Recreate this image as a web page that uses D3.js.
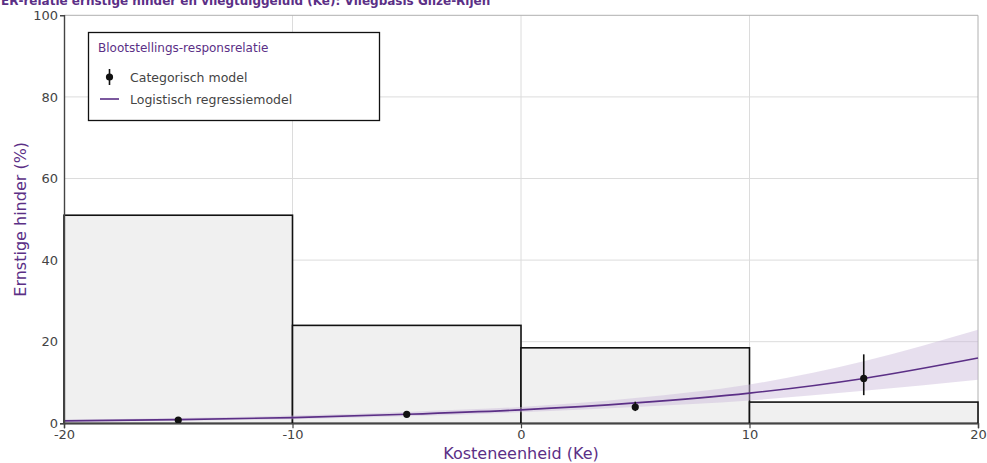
<!DOCTYPE html>
<html><head><meta charset="utf-8">
<script src="https://cdn.jsdelivr.net/npm/d3@7"></script>
<style>body{margin:0;background:#fff}svg{display:block;font-family:"DejaVu Sans",Verdana,sans-serif}</style>
</head><body><svg id="c" width="987" height="463"></svg>
<script>
// Data
const binStarts = [-20, -10, 0, 10];
const binEnds = [-10, 0, 10, 20];
const binValues = [51, 24, 18.5, 5.2];
const pointX = [-15, -5, 5, 15];
const pointY = [0.8, 2.2, 4.0, 11.0];
const pointLow = [0.5, 1.5, 3.0, 6.9];
const pointHigh = [1.1, 3.0, 5.3, 16.9];
const curveX = [-20, -15, -10, -5, 0, 5, 10, 15, 20];
const curveY = [0.6, 0.9, 1.4, 2.2, 3.3, 5.0, 7.4, 11.0, 16.0];
const bandLow = [0.4, 0.6, 1.0, 1.7, 2.7, 4.0, 5.6, 8.0, 10.7];
const bandHigh = [0.9, 1.3, 1.9, 2.8, 4.0, 6.2, 9.5, 15.2, 22.9];
const xTicks = [-20, -10, 0, 10, 20];
const yTicks = [0, 20, 40, 60, 80, 100];

const purple = "#5b2f86";
const svg = d3.select("#c");
const L = 64, R = 978, T = 15.3, B = 423.3;
const x = d3.scaleLinear().domain([-20, 20]).range([L, R]);
const y = d3.scaleLinear().domain([0, 100]).range([B, T]);

// grid
const g = svg.append("g");
g.selectAll(".gx").data(xTicks.slice(1, -1)).join("line")
  .attr("x1", d => x(d)).attr("x2", d => x(d)).attr("y1", T).attr("y2", B)
  .attr("stroke", "#dcdcdc").attr("stroke-width", 1);
g.selectAll(".gy").data(yTicks.slice(1, -1)).join("line")
  .attr("x1", L).attr("x2", R).attr("y1", d => y(d)).attr("y2", d => y(d))
  .attr("stroke", "#dcdcdc").attr("stroke-width", 1);
// frame top/right
svg.append("line").attr("x1", L).attr("x2", R).attr("y1", T).attr("y2", T).attr("stroke", "#b0b0b0");
svg.append("line").attr("x1", R).attr("x2", R).attr("y1", T).attr("y2", B).attr("stroke", "#b0b0b0");

// bars
svg.selectAll(".bar").data(binValues).join("rect")
  .attr("x", (d, i) => x(binStarts[i])).attr("width", (d, i) => x(binEnds[i]) - x(binStarts[i]))
  .attr("y", d => y(d)).attr("height", d => B - y(d))
  .attr("fill", "#f0f0f0").attr("stroke", "#111").attr("stroke-width", 1.6);

// band
const band = d3.area().x((d, i) => x(curveX[i])).y0((d, i) => y(bandLow[i])).y1((d, i) => y(bandHigh[i])).curve(d3.curveMonotoneX);
svg.append("path").datum(curveX).attr("d", band).attr("fill", "#c9b8d9").attr("opacity", 0.45);
// curve
const line = d3.line().x((d, i) => x(curveX[i])).y((d, i) => y(curveY[i])).curve(d3.curveMonotoneX);
svg.append("path").datum(curveX).attr("d", line).attr("fill", "none").attr("stroke", purple).attr("stroke-width", 1.6);

// error bars and points
svg.selectAll(".eb").data(pointX).join("line")
  .attr("x1", d => x(d)).attr("x2", d => x(d))
  .attr("y1", (d, i) => y(pointLow[i])).attr("y2", (d, i) => y(pointHigh[i]))
  .attr("stroke", "#111").attr("stroke-width", 1.6);
svg.selectAll(".pt").data(pointX).join("circle")
  .attr("cx", d => x(d)).attr("cy", (d, i) => y(pointY[i])).attr("r", 3.6)
  .attr("fill", "#111");

// axes
const xAxis = svg.append("g").attr("transform", `translate(0,${B})`)
  .call(d3.axisBottom(x).tickValues(xTicks).tickSize(5).tickPadding(1).tickFormat(d => String(d)));
const yAxis = svg.append("g").attr("transform", `translate(${L},0)`)
  .call(d3.axisLeft(y).tickValues(yTicks).tickSize(4).tickPadding(2).tickFormat(d => String(d)));
[xAxis, yAxis].forEach(a => {
  a.select(".domain").attr("stroke", "#444").attr("stroke-width", 1.4);
  a.selectAll(".tick line").attr("stroke", "#444");
  a.selectAll("text").attr("fill", "#444").style("font-size", "13px").style("font-family", '"DejaVu Sans",Verdana,sans-serif');
});
xAxis.selectAll(".tick line").attr("stroke-width", 1.2);
yAxis.selectAll(".tick line").filter(d => d !== 0).attr("stroke", "none");

// axis titles
svg.append("text").attr("x", x(0)).attr("y", 459).attr("text-anchor", "middle")
  .attr("fill", purple).style("font-size", "16px").text("Kosteneenheid (Ke)");
svg.append("text").attr("transform", `translate(26,${(T + B) / 2}) rotate(-90)`).attr("text-anchor", "middle")
  .attr("fill", purple).style("font-size", "16px").text("Ernstige hinder (%)");

// title
svg.append("text").attr("x", 1).attr("y", 5).attr("fill", purple).style("font-size", "12px").style("font-weight", "bold")
  .text("ER-relatie ernstige hinder en vliegtuiggeluid (Ke): Vliegbasis Gilze-Rijen");

// legend
const lg = svg.append("g");
lg.append("rect").attr("x", 88.5).attr("y", 32.5).attr("width", 291).attr("height", 88)
  .attr("fill", "#fff").attr("stroke", "#111").attr("stroke-width", 1.3);
lg.append("text").attr("x", 98).attr("y", 52).attr("fill", purple).style("font-size", "12px").text("Blootstellings-responsrelatie");
lg.append("line").attr("x1", 109.5).attr("x2", 109.5).attr("y1", 69).attr("y2", 85).attr("stroke", "#111").attr("stroke-width", 1.6);
lg.append("circle").attr("cx", 109.5).attr("cy", 77).attr("r", 3.6).attr("fill", "#111");
lg.append("text").attr("x", 130).attr("y", 81.5).attr("fill", "#444").style("font-size", "12.5px").text("Categorisch model");
lg.append("line").attr("x1", 100).attr("x2", 119).attr("y1", 99).attr("y2", 99).attr("stroke", purple).attr("stroke-width", 1.6);
lg.append("text").attr("x", 130).attr("y", 103.5).attr("fill", "#444").style("font-size", "12.5px").text("Logistisch regressiemodel");
</script></body></html>
